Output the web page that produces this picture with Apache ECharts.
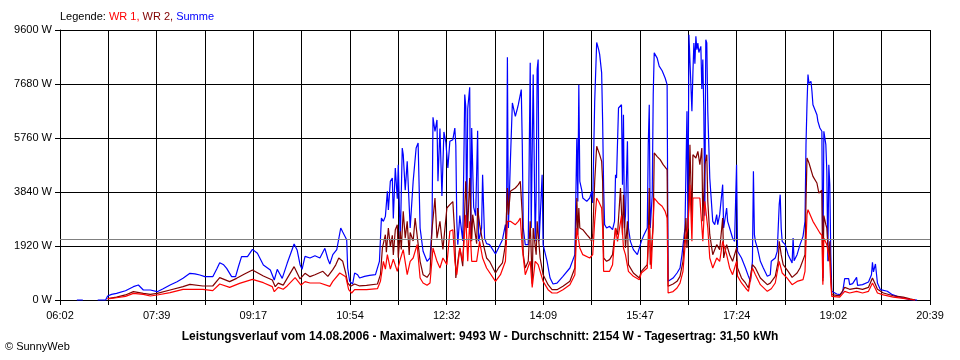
<!DOCTYPE html>
<html>
<head>
<meta charset="utf-8">
<script src="https://cdn.jsdelivr.net/npm/echarts@6/dist/echarts.min.js"></script>
<style>
html,body{margin:0;padding:0;background:#fff;}
#c{width:960px;height:360px;}
</style>
</head>
<body>
<div id="c"></div>
<script>
// Tick labels of the time axis (every second grid line carries a label)
const xTickLabels = ['06:02','07:39','09:17','10:54','12:32','14:09','15:47','17:24','19:02','20:39'];
const yMax = 9600, yStep = 1920;
const AVERAGE = 2154; // Durchschnitt

// Summe (blue)
const sumTimes = ['06:19','06:25','06:30','06:40','06:48','06:50','06:54','06:59','07:08','07:16',
'07:21','07:26','07:33','07:40','07:46','07:53','08:00','08:06','08:13','08:18',
'08:23','08:28','08:36','08:40','08:43','08:47','08:50','08:55','08:59','09:02',
'09:05','09:11','09:16','09:21','09:27','09:34','09:38','09:41','09:44','09:46',
'09:51','09:55','09:58','10:01','10:04','10:06','10:09','10:14','10:19','10:24',
'10:29','10:32','10:34','10:37','10:41','10:43','10:45','10:47','10:51','10:52',
'10:54','10:57','10:59','11:02','11:04','11:09','11:14','11:20','11:22','11:24',
'11:26','11:28','11:30','11:32','11:33','11:35','11:37','11:38','11:40','11:42',
'11:43','11:45','11:47','11:48','11:50','11:52','11:55','11:58','12:01','12:03',
'12:05','12:08','12:12','12:15','12:17','12:18','12:20','12:22','12:23','12:25',
'12:27','12:29','12:31','12:33','12:35','12:38','12:40','12:41','12:42','12:43',
'12:45','12:48','12:50','12:51','12:52','12:53','12:55','12:56','12:57','12:59',
'13:01','13:03','13:04','13:07','13:08','13:10','13:12','13:15','13:21','13:24',
'13:28','13:31','13:32','13:33','13:34','13:36','13:38','13:39','13:41','13:43',
'13:44','13:46','13:47','13:48','13:49','13:51','13:54','13:56','13:57','13:59',
'14:01','14:02','14:03','14:04','14:05','14:08','14:09','14:13','14:16','14:19',
'14:23','14:29','14:36','14:41','14:43','14:44','14:45','14:46','14:48','14:49',
'14:53','14:56','14:58','14:59','15:01','15:03','15:05','15:06','15:08','15:09',
'15:10','15:11','15:13','15:16','15:19','15:21','15:22','15:23','15:25','15:28',
'15:29','15:30','15:31','15:32','15:34','15:35','15:37','15:40','15:44','15:46',
'15:48','15:50','15:54','15:55','15:56','15:57','15:59','16:00','16:01','16:02',
'16:04','16:06','16:09','16:12','16:14','16:15','16:17','16:20','16:24','16:27',
'16:29','16:32','16:34','16:35','16:36','16:37','16:39','16:40','16:41','16:42',
'16:43','16:44','16:45','16:46','16:48','16:49','16:50','16:51','16:52','16:53',
'16:54','16:55','16:57','17:00','17:02','17:04','17:05','17:07','17:10','17:11',
'17:14','17:15','17:17','17:20','17:22','17:24','17:25','17:29','17:33','17:36',
'17:38','17:40','17:41','17:42','17:43','17:45','17:48','17:51','17:55','17:58',
'17:59','18:03','18:05','18:06','18:07','18:08','18:09','18:10','18:13','18:16',
'18:20','18:21','18:22','18:25','18:28','18:31','18:33','18:34','18:35','18:36',
'18:37','18:39','18:40','18:41','18:43','18:45','18:46','18:48','18:50','18:51',
'18:52','18:54','18:55','18:56','18:57','18:58','18:59','19:00','19:05','19:08',
'19:11','19:13','19:17','19:18','19:21','19:25','19:26','19:31','19:37','19:40',
'19:41','19:42','19:44','19:46','19:49','19:56','20:01','20:06','20:12','20:19',
'20:26'];
const sumValues = [0,0,null,0,0,140,200,237,330,474,
533,356,356,296,400,533,650,770,948,930,
889,830,830,1100,1327,1250,1126,830,830,1200,
1541,1541,1801,1659,1244,1067,711,1090,900,770,
1304,1700,1991,1778,1256,1090,1553,1494,1576,1494,
1837,1458,1280,1612,1790,1850,2560,2418,2145,1138,
664,569,960,900,782,841,877,900,960,1375,
2916,2797,2974,3863,3200,4219,4338,2900,4693,3600,
4812,2086,5405,5168,3900,4930,2560,4219,5405,5583,
2560,1731,1375,1494,2560,6496,5998,6401,4219,6100,
3700,5975,5594,4693,5642,5700,6116,5500,2797,1968,
3000,2100,7302,6900,2560,6800,7564,2086,6116,3300,
3000,6021,2086,2560,4456,2200,2003,1968,1636,1850,
2145,2679,1968,8630,2560,4930,7005,6945,6530,6800,
6945,7005,7480,5523,2560,1968,1968,8431,2560,8016,
2086,3750,8200,8550,2086,4456,1968,1375,782,569,
600,841,1138,1612,5760,3500,7657,4219,3900,3626,
3508,3626,3863,3450,7064,9159,8900,8732,8076,6353,
4000,2679,2560,2620,2501,2797,4456,4338,6826,6945,
4100,6590,2560,3000,5642,2560,2086,1790,1612,1553,
2086,2263,2560,5523,6945,2560,3750,7302,8787,8830,
8600,8313,8150,7894,7657,664,664,782,960,1138,
1612,2560,6709,2560,9434,9493,6709,8076,9138,8400,
9375,8900,9138,8800,9019,7500,8550,6709,3000,9256,
9138,6709,4338,2797,2679,3034,2679,3034,4101,2560,
3271,2797,2560,2204,2086,4812,1731,1494,1138,841,
664,1375,4575,2323,2086,1850,1375,1138,841,900,
1375,1494,1731,2560,3390,3745,2560,2086,1968,1612,
1316,2204,1400,1612,1968,2263,2797,5523,6945,8016,
7700,7776,7420,6945,6767,6590,6353,6116,6000,782,
6000,5523,4575,1375,4812,4101,1612,308,213,190,
300,758,758,545,580,806,520,545,640,900,
1339,1000,1280,605,367,310,190,130,71,12,
0];

// WR 2 (dark red)
const wr2Times = ['06:50','06:59','07:08','07:16','07:26','07:33','07:40','07:53','08:06','08:13',
'08:26','08:36','08:43','08:53','09:00','09:08','09:16','09:27','09:36','09:39',
'09:42','09:47','09:51','09:58','10:04','10:06','10:09','10:11','10:14','10:19',
'10:27','10:32','10:37','10:40','10:43','10:47','10:50','10:52','10:55','10:59',
'11:04','11:11','11:22','11:25','11:27','11:30','11:31','11:33','11:35','11:37',
'11:38','11:40','11:42','11:43','11:45','11:46','11:48','11:50','11:52','11:54',
'11:55','11:58','12:00','12:02','12:05','12:08','12:12','12:15','12:17','12:20',
'12:22','12:25','12:28','12:32','12:35','12:38','12:40','12:41','12:43','12:45',
'12:48','12:51','12:53','12:55','12:57','12:58','13:02','13:03','13:05','13:08',
'13:12','13:15','13:21','13:24','13:28','13:31','13:33','13:34','13:36','13:41',
'13:44','13:46','13:48','13:49','13:51','13:54','13:56','13:58','13:59','14:02',
'14:03','14:06','14:09','14:14','14:18','14:23','14:29','14:36','14:41','14:43',
'14:44','14:45','14:46','14:49','14:53','14:56','14:58','14:59','15:01','15:03',
'15:05','15:06','15:08','15:09','15:10','15:13','15:16','15:19','15:22','15:24',
'15:27','15:29','15:30','15:32','15:34','15:35','15:40','15:46','15:48','15:54',
'15:55','15:56','15:57','16:00','16:01','16:04','16:07','16:10','16:14','16:15',
'16:20','16:24','16:27','16:30','16:33','16:34','16:36','16:37','16:39','16:40',
'16:43','16:45','16:47','16:49','16:50','16:52','16:54','16:55','16:57','17:00',
'17:04','17:07','17:10','17:11','17:14','17:17','17:20','17:24','17:25','17:29',
'17:33','17:36','17:38','17:40','17:43','17:48','17:55','17:58','18:03','18:06',
'18:07','18:09','18:11','18:16','18:20','18:25','18:28','18:33','18:34','18:35',
'18:37','18:41','18:45','18:47','18:50','18:51','18:52','18:54','18:55','18:57',
'18:58','18:59','19:00','19:08','19:13','19:18','19:25','19:31','19:37','19:41',
'19:44','19:46','19:52','20:02','20:12','20:19','20:24'];
const wr2Values = [50,100,180,296,237,201,237,356,474,557,
498,498,794,652,770,924,1067,853,711,474,
600,530,770,1185,750,711,948,960,830,900,
1020,841,1080,1250,1494,1375,960,605,486,569,
500,522,569,900,1850,2323,1700,2560,1900,2300,
1600,2500,2679,1500,2441,1800,3153,2200,2800,1600,
2400,2100,2916,2974,1375,900,806,960,2500,3626,
2200,2800,1800,3271,3390,3500,2300,782,1375,1850,
1200,4219,2560,4338,2086,3034,2000,3271,2679,2086,
1494,1375,960,1138,1316,1968,3982,3034,3863,3982,
4101,4219,3034,1612,1138,1375,2797,580,2560,1612,
2797,1494,900,545,367,367,486,664,1138,3626,
2323,3271,2560,2501,2323,2204,2086,2323,4219,5464,
5405,5168,4930,4219,1494,1375,1435,1612,2560,2323,
3982,2323,3745,1850,2797,1256,960,782,1020,1256,
2204,3982,1256,2679,5227,5100,4990,4812,4634,486,
569,664,841,1375,2916,1850,3508,5523,2797,5168,
5049,5286,4812,5405,2797,4812,5168,3508,2323,1612,
1968,1790,2916,1494,1968,1612,1375,1850,1138,782,
605,427,430,1256,1138,782,545,600,841,1375,
2086,1612,1256,1020,806,960,1138,1612,3500,5049,
4871,4397,4160,3804,3900,664,3000,2679,2560,1375,
2086,900,190,150,450,380,420,380,450,782,
550,380,250,150,100,40,0];

// WR 1 (red)
const wr1Times = ['06:50','06:59','07:08','07:16','07:26','07:33','07:40','07:53','08:06','08:13',
'08:26','08:36','08:43','08:53','09:03','09:16','09:27','09:36','09:38','09:42',
'09:47','09:51','09:59','10:05','10:09','10:14','10:24','10:34','10:37','10:44',
'10:50','10:53','10:56','10:59','11:11','11:22','11:25','11:28','11:30','11:32',
'11:35','11:38','11:42','11:45','11:48','11:52','11:55','11:58','12:02','12:05',
'12:08','12:12','12:15','12:18','12:22','12:25','12:28','12:32','12:35','12:38',
'12:40','12:42','12:43','12:45','12:48','12:51','12:53','12:55','12:57','13:02',
'13:05','13:08','13:12','13:21','13:26','13:31','13:33','13:36','13:41','13:44',
'13:46','13:48','13:51','13:56','13:58','14:01','14:04','14:09','14:14','14:18',
'14:23','14:29','14:36','14:41','14:43','14:46','14:49','14:56','14:59','15:01',
'15:03','15:05','15:06','15:08','15:09','15:10','15:16','15:19','15:22','15:24',
'15:28','15:30','15:32','15:35','15:40','15:46','15:48','15:54','15:56','15:58',
'16:01','16:05','16:09','16:12','16:14','16:15','16:20','16:24','16:27','16:30',
'16:33','16:35','16:37','16:39','16:40','16:44','16:47','16:49','16:50','16:52',
'16:54','16:55','16:57','17:00','17:04','17:07','17:10','17:14','17:17','17:20',
'17:24','17:25','17:29','17:33','17:36','17:38','17:40','17:43','17:48','17:55',
'17:59','18:03','18:07','18:10','18:15','18:20','18:25','18:31','18:33','18:35',
'18:36','18:41','18:45','18:48','18:50','18:51','18:52','18:55','18:58','18:59',
'19:00','19:08','19:13','19:18','19:25','19:31','19:37','19:41','19:44','19:46',
'19:52','20:02','20:12','20:19','20:24'];
const wr1Values = [40,80,130,237,200,142,178,261,379,380,
379,332,569,450,593,735,616,474,296,450,
380,500,794,533,652,605,605,486,664,960,
830,367,249,367,367,403,664,1375,1100,1612,
1100,1450,1020,1450,1790,900,1375,1494,1968,782,
605,522,605,1850,1375,1138,1494,1256,2441,2500,
1375,900,850,1850,1375,3034,1375,2797,1375,1375,
2086,1494,1138,664,900,1375,2797,2797,2679,2797,
2916,1850,900,1375,450,1375,1256,664,367,249,
249,367,545,900,2560,1850,1612,1494,1612,2797,
3626,3500,3508,3271,2560,1020,1020,1256,2560,2086,
3000,1850,1612,1020,841,722,960,1138,2679,1100,
3626,3450,3331,3153,2916,249,300,427,600,1020,
2323,2560,4101,2086,3626,3626,3626,3626,2086,3508,
3508,2560,1494,1138,1494,1375,2086,1612,1138,900,
1375,850,605,427,308,367,1138,900,545,308,
400,605,1375,960,780,545,660,722,1020,3034,
3212,2797,2560,2382,2300,545,2200,1968,1375,600,
130,100,308,250,308,250,308,605,400,250,
180,100,60,20,0];

const FONT = '"Liberation Sans", Arial, sans-serif';
function toMin(s){ const p = s.split(':'); return (+p[0])*60 + (+p[1]); }
const START = toMin(xTickLabels[0]);
const END = toMin(xTickLabels[xTickLabels.length-1]);
const SPAN = END - START;
const DIVS = (xTickLabels.length - 1) * 2;
const XINT = SPAN / DIVS;
function pts(times, vals){
  return times.map((t,i) => [toMin(t) - START, vals[i] === null ? '-' : vals[i]]);
}

const chart = echarts.init(document.getElementById('c'), null, {renderer:'canvas'});
const lineSeries = (name, color, times, vals) => ({
  name, type:'line', data: pts(times, vals), symbol:'none', showSymbol:false,
  lineStyle:{color, width:1.2}, itemStyle:{color}, connectNulls:false, animation:false,
  clip:false
});
const s1 = lineSeries('WR 1', '#ff0000', wr1Times, wr1Values);
s1.markLine = {
  silent:true, symbol:['none','none'], label:{show:false}, animation:false,
  lineStyle:{color:'#808080', width:1, type:'solid'},
  data:[{yAxis: AVERAGE}]
};
chart.setOption({
  backgroundColor:'#ffffff',
  animation:false,
  grid:{left:60, right:30, top:30, bottom:60},
  xAxis:{
    type:'value', min:0, max:SPAN, interval:XINT,
    axisLine:{show:true, lineStyle:{color:'#000', width:1}},
    axisTick:{show:true, length:5, lineStyle:{color:'#000', width:1}},
    splitLine:{show:true, lineStyle:{color:'#000', width:1}},
    axisLabel:{color:'#000', fontSize:11, fontFamily:FONT, margin:10,
      formatter:(v)=>{ const i = Math.round(v / XINT); return i % 2 === 0 ? xTickLabels[i/2] : ''; }}
  },
  yAxis:{
    type:'value', min:0, max:yMax, interval:yStep,
    axisLine:{show:true, lineStyle:{color:'#000', width:1}},
    axisTick:{show:true, length:5, lineStyle:{color:'#000', width:1}},
    splitLine:{show:true, lineStyle:{color:'#000', width:1}},
    axisLabel:{color:'#000', fontSize:11, fontFamily:FONT, margin:8, formatter:(v)=> v + ' W'}
  },
  series:[
    lineSeries('Summe', '#0000ff', sumTimes, sumValues),
    lineSeries('WR 2', '#800000', wr2Times, wr2Values),
    s1
  ],
  graphic:[
    {type:'text', x:60, y:17, style:{
      text:'{a|Legende: }{b|WR 1, }{c|WR 2, }{d|Summe}',
      verticalAlign:'middle', font:'11px ' + FONT,
      rich:{
        a:{fill:'#000', fontSize:11, fontFamily:FONT},
        b:{fill:'#ff0000', fontSize:11, fontFamily:FONT},
        c:{fill:'#800000', fontSize:11, fontFamily:FONT},
        d:{fill:'#0000ff', fontSize:11, fontFamily:FONT}
      }}},
    {type:'text', x:480, y:337, style:{
      text:'Leistungsverlauf vom 14.08.2006 - Maximalwert: 9493 W - Durchschnitt: 2154 W - Tagesertrag: 31,50 kWh',
      align:'center', verticalAlign:'middle', fill:'#000', font:'bold 12px ' + FONT}},
    {type:'text', x:5, y:347, style:{
      text:'\u00A9 SunnyWeb', verticalAlign:'middle', fill:'#000', font:'11px ' + FONT}}
  ]
});
</script>
</body>
</html>
